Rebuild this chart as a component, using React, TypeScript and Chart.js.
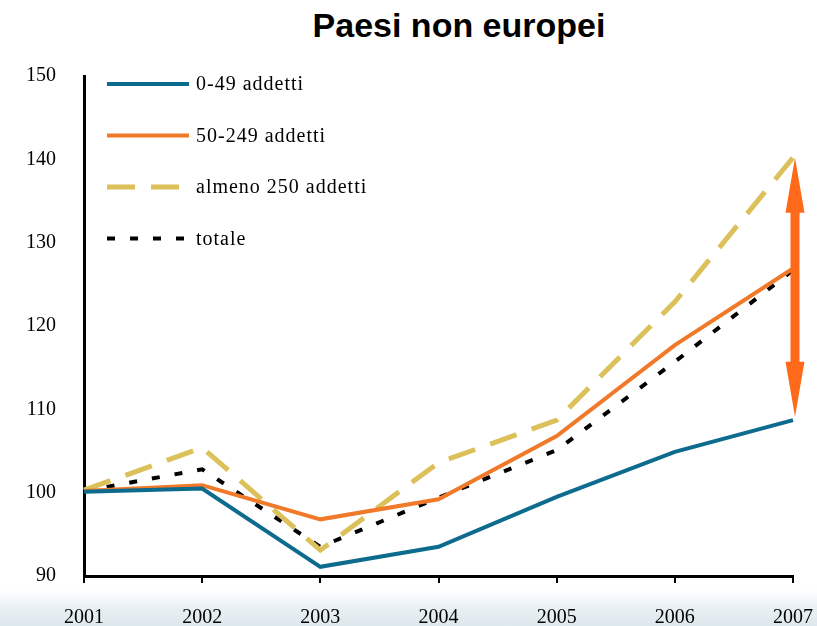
import React, { useEffect, useRef } from "react";
import { Chart, registerables } from "chart.js";

Chart.register(...registerables);

const years = ["2001", "2002", "2003", "2004", "2005", "2006", "2007"];
const small = [100.1, 100.5, 91.1, 93.5, 99.5, 104.9, 108.7];
const medium = [100.2, 100.9, 96.8, 99.2, 106.8, 117.7, 126.9];
const large = [100.3, 105.4, 93.1, 103.6, 108.7, 122.9, 140.2];
const total = [100.2, 102.8, 93.5, 99.4, 105.1, 115.7, 126.7];
const seriesLabels = ["0-49 addetti", "50-249 addetti", "almeno 250 addetti", "totale"];
const yTicks = [90, 100, 110, 120, 130, 140, 150];
const arrowRange = [109.1, 140.2];

const SERIF = "'Liberation Serif', 'Times New Roman', serif";

const legendPlugin = {
  id: "insideLegend",
  afterDraw(chart: any) {
    const ctx = chart.ctx;
    const area = chart.chartArea;
    ctx.save();
    chart.data.datasets.forEach((ds: any, i: number) => {
      const y = area.top + 8 + i * 51.5;
      const x0 = area.left + 23;
      ctx.beginPath();
      ctx.strokeStyle = ds.borderColor;
      ctx.lineWidth = ds.borderWidth;
      ctx.setLineDash(ds.borderDash || []);
      ctx.lineCap = "butt";
      ctx.moveTo(x0, y);
      ctx.lineTo(x0 + 82, y);
      ctx.stroke();
      ctx.setLineDash([]);
      ctx.fillStyle = "#000";
      ctx.font = "20px " + SERIF;
      try { (ctx as any).letterSpacing = "1px"; } catch (e) {}
      ctx.textBaseline = "middle";
      ctx.textAlign = "left";
      ctx.fillText(ds.label, x0 + 89, y + 1);
      try { (ctx as any).letterSpacing = "0px"; } catch (e) {}
    });
    ctx.restore();
  },
};

const arrowPlugin = {
  id: "rangeArrow",
  afterDatasetsDraw(chart: any) {
    const ctx = chart.ctx;
    const xs = chart.scales.x;
    const ys = chart.scales.y;
    const x = xs.getPixelForValue(years.length - 1) + 2;
    const yTop = ys.getPixelForValue(arrowRange[1]);
    const yBot = ys.getPixelForValue(arrowRange[0]);
    const headH = 55;
    const headW = 19;
    const shaft = 9;
    ctx.save();
    ctx.fillStyle = "#ff6a1a";
    ctx.beginPath();
    ctx.moveTo(x, yTop);
    ctx.lineTo(x + headW / 2, yTop + headH);
    ctx.lineTo(x + shaft / 2, yTop + headH);
    ctx.lineTo(x + shaft / 2, yBot - headH);
    ctx.lineTo(x + headW / 2, yBot - headH);
    ctx.lineTo(x, yBot);
    ctx.lineTo(x - headW / 2, yBot - headH);
    ctx.lineTo(x - shaft / 2, yBot - headH);
    ctx.lineTo(x - shaft / 2, yTop + headH);
    ctx.lineTo(x - headW / 2, yTop + headH);
    ctx.closePath();
    ctx.fill();
    ctx.restore();
  },
};

export default function App() {
  const ref = useRef<HTMLCanvasElement>(null);

  useEffect(() => {
    document.body.style.margin = "0";
    const canvas = ref.current;
    if (!canvas) return;
    const chart = new Chart(canvas, {
      type: "line",
      data: {
        labels: years,
        datasets: [
          { label: seriesLabels[0], data: small, borderColor: "#0d6b8e", borderWidth: 4, pointRadius: 0, fill: false, tension: 0 },
          { label: seriesLabels[1], data: medium, borderColor: "#f07a2a", borderWidth: 4, pointRadius: 0, fill: false, tension: 0 },
          { label: seriesLabels[2], data: large, borderColor: "#dcc05a", borderWidth: 5, borderDash: [28, 16], pointRadius: 0, fill: false, tension: 0 },
          { label: seriesLabels[3], data: total, borderColor: "#000000", borderWidth: 4, borderDash: [8, 15], pointRadius: 0, fill: false, tension: 0 },
        ],
      },
      options: {
        animation: false,
        responsive: false,
        maintainAspectRatio: false,
        layout: { padding: { left: 0, right: 24, top: 76, bottom: 0 } },
        plugins: {
          legend: { display: false },
          title: { display: false },
          tooltip: { enabled: false },
        },
        scales: {
          x: {
            offset: false,
            afterFit: (s: any) => {
              s.height = 50;
              s.paddingLeft = 0;
              s.paddingRight = 0;
            },
            grid: { display: true, drawOnChartArea: false, drawTicks: true, tickLength: 7, color: "#000", lineWidth: 2 },
            border: { display: true, color: "#000", width: 3 },
            ticks: { color: "#000", padding: 23, maxRotation: 0, font: { family: SERIF, size: 20 } },
          },
          y: {
            min: yTicks[0],
            max: yTicks[yTicks.length - 1],
            afterFit: (s: any) => { s.width = 84; },
            afterBuildTicks: (s: any) => { s.ticks = yTicks.map((v) => ({ value: v })); },
            grid: { display: false, drawTicks: false },
            border: { display: true, color: "#000", width: 3 },
            ticks: { color: "#000", padding: 28, font: { family: SERIF, size: 20 } },
          },
        },
      },
      plugins: [legendPlugin, arrowPlugin],
    });
    return () => chart.destroy();
  }, []);

  return (
    <div
      style={{
        position: "relative",
        width: 817,
        height: 626,
        background: "linear-gradient(to bottom, #ffffff 0px, #ffffff 590px, #e8f0f3 608px, #dde8ed 626px)",
        overflow: "hidden",
      }}
    >
      <div
        style={{
          position: "absolute",
          left: 259,
          width: 400,
          top: 5,
          textAlign: "center",
          fontFamily: "'Liberation Sans', Arial, sans-serif",
          fontWeight: "bold",
          fontSize: 34,
          lineHeight: "40px",
          color: "#000",
          whiteSpace: "nowrap",
        }}
      >
        Paesi non europei
      </div>
      <canvas ref={ref} width={817} height={626} style={{ position: "absolute", left: 0, top: 0 }} />
    </div>
  );
}
